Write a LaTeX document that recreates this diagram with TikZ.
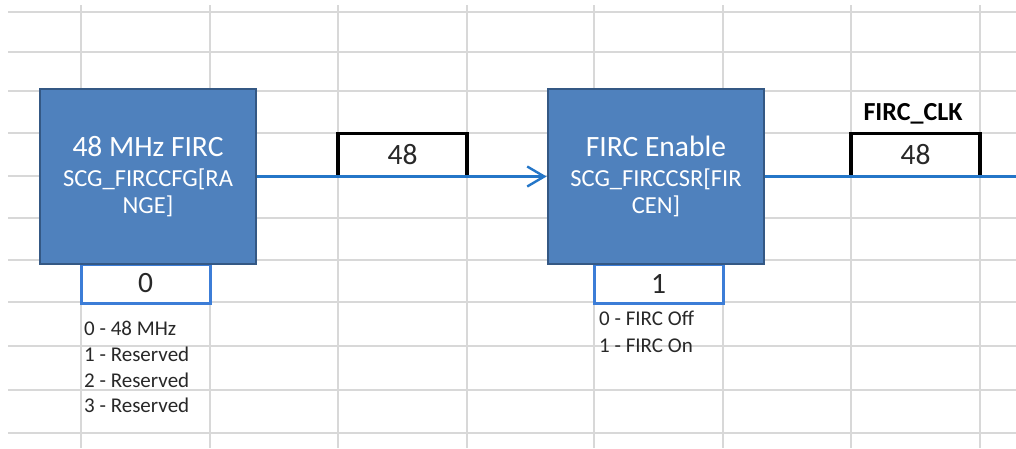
\documentclass[tikz,border=0pt]{standalone}
\usepackage{fontspec}
\setmainfont{Carlito}
\usetikzlibrary{arrows.meta}
\definecolor{gridc}{RGB}{216,216,216}
\definecolor{blkfill}{RGB}{79,129,189}
\definecolor{blkdraw}{RGB}{52,88,132}
\definecolor{wire}{RGB}{36,118,200}
\definecolor{valblue}{RGB}{60,125,215}
\definecolor{txt}{RGB}{40,40,40}
\begin{document}
\begin{tikzpicture}[x=1pt,y=-1pt,
 gridline/.style={draw=gridc,line width=1.8pt},
 block/.style={draw=blkdraw,line width=2.8pt,fill=blkfill,text=white,minimum width=216pt,minimum height=175pt,align=center,inner sep=0pt,font=\fontsize{24.5}{27}\selectfont},
 valbox/.style={draw=valblue,line width=3pt,fill=white,minimum width=129pt,minimum height=39pt,inner sep=0pt,font=\fontsize{29.5}{29.5}\selectfont,text=txt},
 outbox/.style={draw=black,line width=3.2pt,fill=white,minimum width=129pt,minimum height=43pt,inner sep=0pt,font=\fontsize{29.5}{29.5}\selectfont,text=txt},
 note/.style={anchor=base west,inner sep=0pt,font=\fontsize{21}{21}\selectfont,text=txt},
 wireline/.style={draw=wire,line width=2.4pt},
 siglabel/.style={inner sep=0pt,font=\bfseries\fontsize{26}{26}\selectfont,text=black},
]
\useasboundingbox[fill=white] (0,0) rectangle (1016,448);
\foreach \y in {12,52,91,133,176,218,260,302,346,390,433} \draw[gridline] (8,\y) -- (1016,\y);
\foreach \x in {81,210,338,467,594,723,851,980} \draw[gridline] (\x,5) -- (\x,448);

\node[valbox] (val0) at (145.5,283.5) {0};
\node[valbox] (val1) at (658.5,283.5) {1};

\node[block] (blk1) at (148,176.5) {{\fontsize{29.5}{29.5}\selectfont 48 MHz FIRC}\\[3pt]SCG\_FIRCCFG[RA\\NGE]};
\node[block] (blk2) at (656,176.5) {{\fontsize{29.5}{29.5}\selectfont FIRC Enable}\\[3pt]SCG\_FIRCCSR[FIR\\CEN]};

\node[outbox] (frq1) at (402.5,155) {48};
\node[outbox] (frq2) at (915.5,155) {48};
\node[siglabel] (clk) at (913,114) {FIRC\_CLK};

\node[note] (n1a) at (84,335) {0 - 48 MHz};
\node[note] (n1b) at (84,361) {1 - Reserved};
\node[note] (n1c) at (84,387) {2 - Reserved};
\node[note] (n1d) at (84,412) {3 - Reserved};
\node[note] (n2a) at (599,325) {0 - FIRC Off};
\node[note] (n2b) at (599,352) {1 - FIRC On};

\coordinate (wireend) at (1016,176.5);
\draw[wireline,-{Straight Barb[length=17pt,width=20pt,line width=2.4pt]}] (blk1.east) -- (blk2.west);
\draw[wireline] (blk2.east) -- (wireend);
\end{tikzpicture}
\end{document}
